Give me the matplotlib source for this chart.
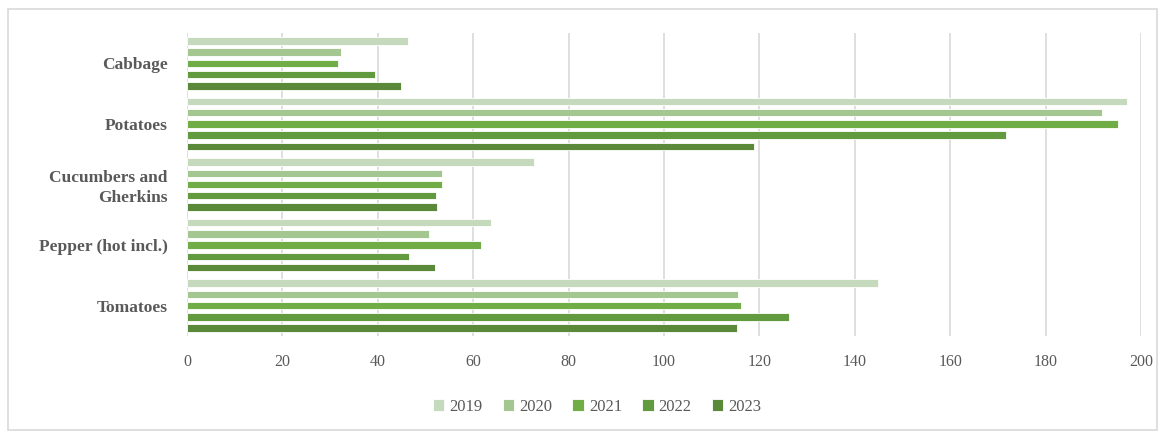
import matplotlib.pyplot as plt
import numpy as np
from matplotlib.patches import Rectangle

# values (top to bottom)
categories = ["Cabbage", "Potatoes", "Cucumbers and\nGherkins", "Pepper (hot incl.)", "Tomatoes"]
years = ["2019", "2020", "2021", "2022", "2023"]
v2019 = [46.3, 197.0, 72.7, 63.8, 144.8]
v2020 = [32.2, 191.8, 53.5, 50.8, 115.6]
v2021 = [31.7, 195.2, 53.5, 61.6, 116.2]
v2022 = [39.4, 171.7, 52.1, 46.6, 126.3]
v2023 = [44.8, 118.9, 52.4, 52.0, 115.3]
series = [v2019, v2020, v2021, v2022, v2023]
colors = ["#C5D9BC", "#A4C690", "#70AD47", "#629A3F", "#5A8A39"]

plt.rcParams["font.family"] = ["Liberation Serif", "DejaVu Serif"]

fig = plt.figure(figsize=(11.65, 4.34), dpi=100)
ax = fig.add_axes([187 / 1165, 1 - 336 / 434, (1141 - 187) / 1165, (336 - 33) / 434])

# chart border
fig.patches.append(Rectangle((8 / 1165, 1 - 430 / 434), 1149 / 1165, 421 / 434,
                             transform=fig.transFigure, fill=False,
                             edgecolor="#D9D9D9", linewidth=1.2))

n = len(categories)
centers = np.arange(n)[::-1]  # Cabbage at top
pitch = 0.185
height = 0.125
for j, (vals, col) in enumerate(zip(series, colors)):
    y = centers + (2 - j) * pitch
    ax.barh(y, vals, height=height, color=col, edgecolor="white", linewidth=0.6,
            label=years[j], zorder=3)

ax.set_xlim(0, 200)
ax.set_ylim(-0.5, n - 0.5)
ax.set_xticks(np.arange(0, 201, 20))
ax.set_yticks(centers)
ax.set_yticklabels(categories, fontsize=12.5, fontweight="bold", color="#595959",
                   linespacing=1.3)
ax.tick_params(axis="x", labelsize=11.5, colors="#595959", length=0, pad=13)
ax.tick_params(axis="y", length=0, pad=14)
ax.grid(axis="x", color="#D9D9D9", linewidth=1.2, zorder=0)
for s in ["top", "right", "bottom", "left"]:
    ax.spines[s].set_visible(False)

leg = ax.legend(loc="center", bbox_to_anchor=(597 / 1165, 1 - 407 / 434),
                bbox_transform=fig.transFigure, ncol=5, frameon=False,
                fontsize=12, handlelength=0.7, handleheight=0.7, handletextpad=0.3,
                columnspacing=1.2)
for t in leg.get_texts():
    t.set_color("#595959")

fig.savefig("out.png", dpi=100)
